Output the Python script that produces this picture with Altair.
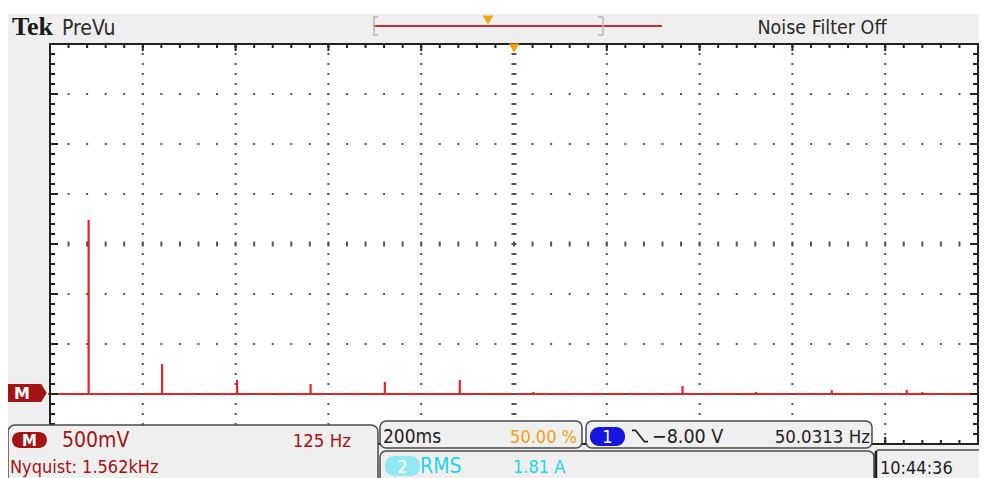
import altair as alt
import pandas as pd

# ---- data (frequency in Hz, amplitude in V) ----
freqs = [52, 151, 252, 351, 451, 552, 651, 852, 951, 1053, 1154, 1175]
amps = [1.74, 0.30, 0.14, 0.10, 0.12, 0.14, 0.02, 0.08, 0.02, 0.04, 0.04, 0.02]
x_grid = [125, 250, 375, 500, 750, 875, 1000, 1125]
y_grid = [0.0, 0.5, 1.0, 2.0, 2.5, 3.0]
x_center = [625]
y_center = [1.5]
x_domain = [0, 1250]
y_domain = [-0.5, 3.5]

# ---- layout ----
W, H = 928, 400          # plot area
OX, OY = 50, 44          # plot area origin on page
XDIV = W / 10.0
FONT = "Liberation Sans Narrow, DejaVu Sans Condensed, Arial Narrow, sans-serif"
RED = "#ee2222"
DRED = "#a31414"
ORANGE = "#f0a010"
CYAN = "#22d4e4"
DARK = "#222222"
GRID = "#555555"
PANEL = "#efefef"
EDGE = "#4a4a4a"

XS = alt.Scale(domain=x_domain, nice=False, zero=False)
YS = alt.Scale(domain=y_domain, nice=False, zero=False)
ONE = pd.DataFrame({"d": [0]})


def R(x, x2, y, y2, fill, stroke=None, sw=0, cr=0, op=1):
    kw = dict(fill=fill, cornerRadius=cr, fillOpacity=op)
    if stroke:
        kw.update(stroke=stroke, strokeWidth=sw)
    return alt.Chart(ONE).mark_rect(**kw).encode(
        x=alt.value(x - OX), x2=alt.value(x2 - OX),
        y=alt.value(y - OY), y2=alt.value(y2 - OY))


def T(x, y, s, color, size=22, align="left", font=FONT, weight="normal"):
    return alt.Chart(ONE).mark_text(
        text=s, align=align, baseline="alphabetic", fontSize=size,
        font=font, fontWeight=weight, color=color).encode(
        x=alt.value(x - OX), y=alt.value(y - OY))


def P(x, y, shape, size, color, filled=True, sw=1.5):
    kw = dict(shape=shape, size=size, filled=filled, opacity=1)
    if filled:
        kw.update(fill=color, strokeWidth=0)
    else:
        kw.update(stroke=color, strokeWidth=sw)
    return alt.Chart(ONE).mark_point(**kw).encode(
        x=alt.value(x - OX), y=alt.value(y - OY))


def HL(x, x2, y, color, sw=2):
    return alt.Chart(ONE).mark_rule(color=color, strokeWidth=sw).encode(
        x=alt.value(x - OX), x2=alt.value(x2 - OX), y=alt.value(y - OY))


def VL(x, y, y2, color, sw=2):
    return alt.Chart(ONE).mark_rule(color=color, strokeWidth=sw).encode(
        x=alt.value(x - OX), y=alt.value(y - OY), y2=alt.value(y2 - OY))


layers = []
# page top white strip
layers.append(R(8, 990, 8, 14, "#ffffff"))
# plot area
layers.append(R(OX, OX + W, OY, OY + H, "#ffffff"))

# baseline trace
layers.append(alt.Chart(pd.DataFrame({"v": [0.0]})).mark_rule(color=RED, strokeWidth=2).encode(
    y=alt.Y("v:Q", scale=YS, axis=None), x=alt.value(-2), x2=alt.value(W)))

# grid dots
layers.append(alt.Chart(pd.DataFrame({"f": x_grid})).mark_rule(
    color=GRID, strokeWidth=2, strokeDash=[2, 8], strokeDashOffset=1).encode(
    x=alt.X("f:Q", scale=XS, axis=None), y=alt.value(0), y2=alt.value(H)))
layers.append(alt.Chart(pd.DataFrame({"v": y_grid})).mark_rule(
    color=GRID, strokeWidth=2, strokeDash=[2, XDIV / 5 - 2], strokeDashOffset=1).encode(
    y=alt.Y("v:Q", scale=YS, axis=None), x=alt.value(0), x2=alt.value(W)))
layers.append(alt.Chart(pd.DataFrame({"f": x_center})).mark_rule(
    color=GRID, strokeWidth=5, strokeDash=[2, 8], strokeDashOffset=1).encode(
    x=alt.X("f:Q", scale=XS, axis=None), y=alt.value(0), y2=alt.value(H)))
layers.append(alt.Chart(pd.DataFrame({"v": y_center})).mark_rule(
    color=GRID, strokeWidth=5, strokeDash=[2, XDIV / 5 - 2], strokeDashOffset=1).encode(
    y=alt.Y("v:Q", scale=YS, axis=None), x=alt.value(0), x2=alt.value(W)))

# spectrum spikes
spk = pd.DataFrame({"f": freqs, "a": amps, "b": [0.0] * len(freqs)})
layers.append(alt.Chart(spk).mark_rule(color=RED, strokeWidth=2.2).encode(
    x=alt.X("f:Q", scale=XS, axis=None),
    y=alt.Y("a:Q", scale=YS, axis=None), y2="b:Q"))

# border
layers.append(R(OX, OX + W, OY, OY + H, "#ffffff", stroke=DARK, sw=2, op=0))


def edge_ticks(orient, sw, dash):
    ch = alt.Chart(ONE).mark_rule(color=DARK, strokeWidth=sw, strokeDash=dash, strokeDashOffset=1)
    if orient == "left":
        return ch.encode(x=alt.value(sw / 2), y=alt.value(0), y2=alt.value(H))
    if orient == "right":
        return ch.encode(x=alt.value(W - sw / 2), y=alt.value(0), y2=alt.value(H))
    if orient == "top":
        return ch.encode(y=alt.value(sw / 2), x=alt.value(0), x2=alt.value(W))
    return ch.encode(y=alt.value(H - sw / 2), x=alt.value(0), x2=alt.value(W))


for o in ["left", "right"]:
    layers.append(edge_ticks(o, 5, [2, 8]))
    layers.append(edge_ticks(o, 8, [2, 48]))
for o in ["top", "bottom"]:
    layers.append(edge_ticks(o, 4, [2, XDIV / 5 - 2]))
    layers.append(edge_ticks(o, 7, [2, XDIV - 2]))

# trigger marker at top of plot
layers.append(P(OX + W / 2, 48, "triangle-down", 110, ORANGE))

# ---- header ----
layers.append(T(12, 35, "Tek", "#1a1a1a", size=26, font="Liberation Serif, DejaVu Serif, serif", weight="bold"))
layers.append(T(62, 35, "PreVu", "#2a2a2a", size=21))
layers.append(HL(373, 662, 26, "#c83030", sw=2))
layers.append(VL(374, 17, 35, "#b8b8b8", sw=1.5))
layers.append(HL(373, 378, 17, "#b8b8b8", sw=1.5))
layers.append(HL(373, 378, 35, "#b8b8b8", sw=1.5))
layers.append(VL(603, 17, 35, "#b8b8b8", sw=1.5))
layers.append(HL(598, 603, 17, "#b8b8b8", sw=1.5))
layers.append(HL(598, 603, 35, "#b8b8b8", sw=1.5))
layers.append(P(488, 20, "triangle-down", 110, ORANGE))
layers.append(T(822, 34, "Noise Filter Off", "#2a2a2a", size=19.5, align="center"))

# M reference marker on the left
layers.append(P(27, 393, "M-1,-0.45L0.72,-0.45L1,0L0.72,0.45L-1,0.45Z", 1560, DRED))
layers.append(T(22, 399, "M", "#ffffff", size=16, font="DejaVu Sans, sans-serif", weight="bold", align="center"))

# ---- bottom panels ----
layers.append(R(8, 378, 425, 500, PANEL, stroke=EDGE, sw=1.5, cr=7))
layers.append(R(12, 47, 432, 448, DRED, cr=8))
layers.append(T(29.5, 446, "M", "#ffffff", size=15, font="DejaVu Sans, sans-serif", weight="bold", align="center"))
layers.append(T(62, 447, "500mV", DRED, size=21))
layers.append(T(351, 447, "125 Hz", DRED, size=18.5, align="right"))
layers.append(T(10, 473, "Nyquist: 1.562kHz", DRED, size=18))

layers.append(R(380, 582, 421, 448, PANEL, stroke=EDGE, sw=1.5, cr=6))
layers.append(T(383, 443, "200ms", DARK, size=19))
layers.append(T(577, 443, "50.00 %", ORANGE, size=18, align="right"))

layers.append(R(586, 872, 421, 448, PANEL, stroke=EDGE, sw=1.5, cr=6))
layers.append(R(590, 625, 427, 446, "#1515e0", cr=9))
layers.append(T(607.5, 443, "1", "#ffffff", size=18, align="center"))
layers.append(P(640, 436, "M-1,-0.7L-0.55,-0.7L0.55,0.7L1,0.7", 256, DARK, filled=False, sw=1.6))
layers.append(T(652, 443, "\u22128.00 V", DARK, size=19.5))
layers.append(T(870, 443, "50.0313 Hz", DARK, size=18.5, align="right"))

layers.append(R(380, 874, 451, 500, PANEL, stroke=EDGE, sw=1.5, cr=6))
layers.append(R(385, 420, 456, 476, "#92e8f0", cr=9))
layers.append(T(402.5, 473, "2", "#ffffff", size=18, align="center"))
layers.append(T(420, 473, "RMS", CYAN, size=21))
layers.append(T(513, 473, "1.81 A", CYAN, size=18))

layers.append(R(875, 1000, 450, 500, PANEL, stroke=EDGE, sw=1.5, cr=4))
layers.append(VL(876, 451, 478, DARK, sw=2.5))
layers.append(T(880, 474, "10:44:36", DARK, size=18))

chart = alt.layer(*layers).properties(
    width=W, height=H,
    padding={"left": OX - 8, "top": OY - 8, "right": 971 - (OX - 8) - W, "bottom": 34},
    autosize=alt.AutoSizeParams(type="none"),
    background="#efefef",
).configure_view(stroke=None)

chart.save("out.html", embed_options={"renderer": "svg", "actions": False})
